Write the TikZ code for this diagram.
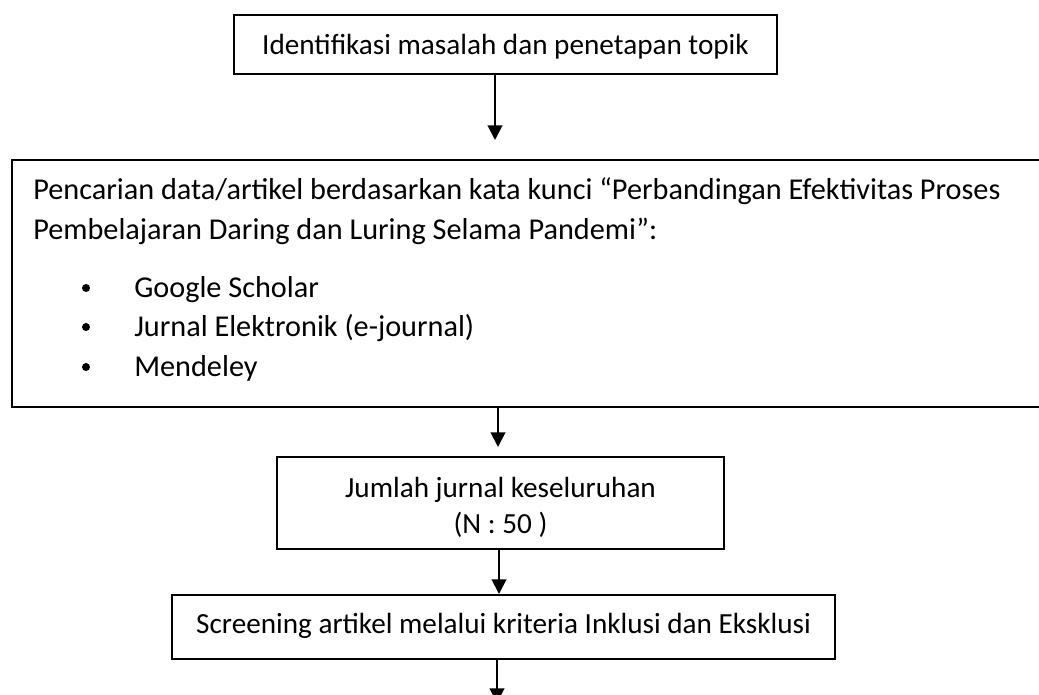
\documentclass[tikz,border=0pt]{standalone}
\usepackage{fontspec}
\setmainfont{Carlito}
\usetikzlibrary{arrows.meta}
\begin{document}
\begin{tikzpicture}[x=0.75pt,y=-0.75pt,
  box/.style={draw=black,line width=1.5pt,rectangle,inner sep=0pt},
  txt/.style={font=\fontsize{21.9}{26}\selectfont,inner sep=0pt,anchor=base},
  txtb/.style={font=\fontsize{22.7}{27}\selectfont,inner sep=0pt,anchor=base west},
  flow/.style={line width=1.5pt,-{Triangle[length=11pt,width=11pt]}}]
\useasboundingbox (0,0) rectangle (1039,695);
% boxes
\node[box,minimum width=407.25pt,minimum height=44.25pt] (box1) at (505.5,44.5) {};
\node[box,minimum width=774.75pt,minimum height=185.25pt] (box2) at (528.5,283.5) {};
\node[box,minimum width=335.25pt,minimum height=69pt] (box3) at (500.5,503) {};
\node[box,minimum width=497.25pt,minimum height=48pt] (box4) at (503.5,627) {};
% texts
\node[txt] (t1) at (505.5,55) {Identifikasi masalah dan penetapan topik};
\node[txtb] (l1) at (33,200) {Pencarian data/artikel berdasarkan kata kunci “Perbandingan Efektivitas Proses};
\node[txtb] (l2) at (33,240) {Pembelajaran Daring dan Luring Selama Pandemi”:};
\node[txtb] (i1) at (134,298) {Google Scholar};
\node[txtb] (i2) at (134,337) {Jurnal Elektronik (e-journal)};
\node[txtb] (i3) at (134,377) {Mendeley};
\fill (86,288) circle[radius=3pt];
\fill (86,327) circle[radius=3pt];
\fill (86,367) circle[radius=3pt];
\node[txt] (t3a) at (500.5,497) {Jumlah jurnal keseluruhan};
\node[txt] (t3b) at (500.5,533) {(N : 50 )};
\node[txt] (t4) at (503.5,633) {Screening artikel melalui kriteria Inklusi dan Eksklusi};
% connectors
\coordinate (e1) at (495,140);
\draw[flow] (box1.south -| e1) -- (e1);
\coordinate (e2) at (498,447);
\draw[flow] (box2.south -| e2) -- (e2);
\coordinate (x3) at (499,0);
\draw[flow] (box3.south -| x3) -- (box4.north -| x3);
\coordinate (e4) at (497,703);
\draw[flow] (box4.south -| e4) -- (e4);
\end{tikzpicture}
\end{document}
